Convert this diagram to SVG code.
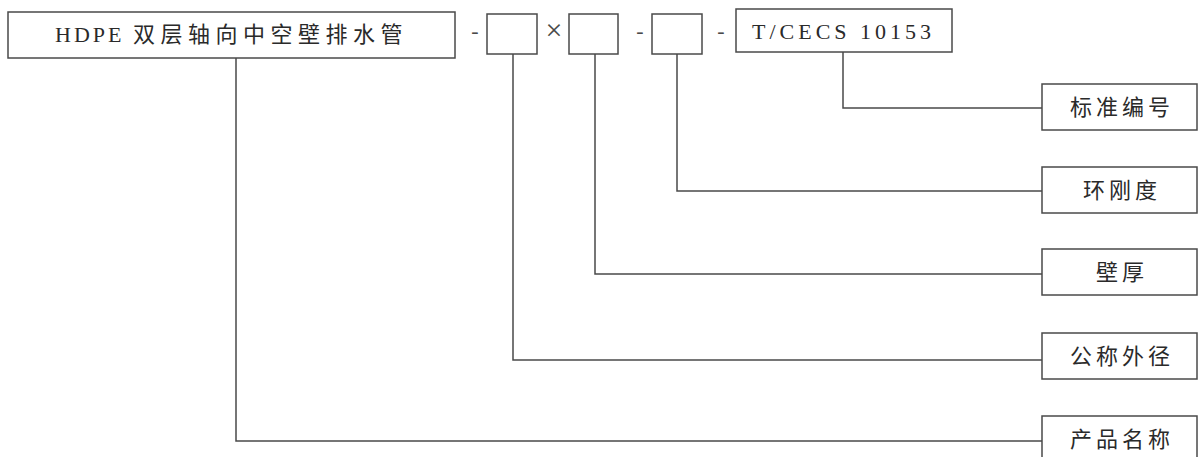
<svg xmlns="http://www.w3.org/2000/svg" width="1202" height="457" viewBox="0 0 1202 457">
<style>
.box{fill:#fff;stroke:#4a4a4a;stroke-width:1.5}
.conn{fill:none;stroke:#4a4a4a;stroke-width:1.5}
.t{font-family:"Liberation Serif","Noto Sans CJK SC",serif;font-size:22px;fill:#2a2a2a;letter-spacing:5.5px}
.lbl{font-family:"Liberation Serif","Noto Sans CJK SC",serif;font-size:22px;fill:#2a2a2a;letter-spacing:4px;text-anchor:middle}
.sep{font-family:"Liberation Serif",serif;font-size:22px;fill:#4a4a4a;text-anchor:middle}
</style>
<rect width="1202" height="457" fill="#fff"/>
<g id="connectors">
<polyline class="conn" points="236,58 236,441 1042,441"/>
<polyline class="conn" points="513,54 513,360 1042,360"/>
<polyline class="conn" points="595,54 595,274 1042,274"/>
<polyline class="conn" points="677,54 677,191 1042,191"/>
<polyline class="conn" points="843,52 843,108 1042,108"/>
</g>
<g id="product">
<rect class="box" x="8" y="12" width="447" height="46"/>
<text class="t" x="55" y="42"><tspan style="letter-spacing:3px">HDPE </tspan>双层轴向中空壁排水管</text>
</g>
<g id="separators">
<text class="sep" x="475" y="38">-</text>
<text class="sep" x="554" y="40" style="font-size:30px">×</text>
<text class="sep" x="640" y="38">-</text>
<text class="sep" x="721" y="38">-</text>
</g>
<g id="diameter"><rect class="box" x="487" y="14" width="50" height="40"/></g>
<g id="thickness"><rect class="box" x="569" y="14" width="49" height="40"/></g>
<g id="stiffness"><rect class="box" x="652" y="14" width="50" height="40"/></g>
<g id="standard">
<rect class="box" x="736" y="9" width="216" height="43"/>
<text class="t" x="752" y="39" style="letter-spacing:4px">T/CECS 10153</text>
</g>
<g id="label-standard">
<rect class="box" x="1042" y="84" width="155" height="46"/>
<text class="lbl" x="1122" y="115">标准编号</text>
</g>
<g id="label-stiffness">
<rect class="box" x="1042" y="167" width="155" height="46"/>
<text class="lbl" x="1122" y="198">环刚度</text>
</g>
<g id="label-thickness">
<rect class="box" x="1042" y="249" width="155" height="46"/>
<text class="lbl" x="1122" y="280">壁厚</text>
</g>
<g id="label-diameter">
<rect class="box" x="1042" y="333" width="155" height="46"/>
<text class="lbl" x="1122" y="364">公称外径</text>
</g>
<g id="label-name">
<rect class="box" x="1042" y="416" width="155" height="46"/>
<text class="lbl" x="1122" y="447">产品名称</text>
</g>
</svg>
